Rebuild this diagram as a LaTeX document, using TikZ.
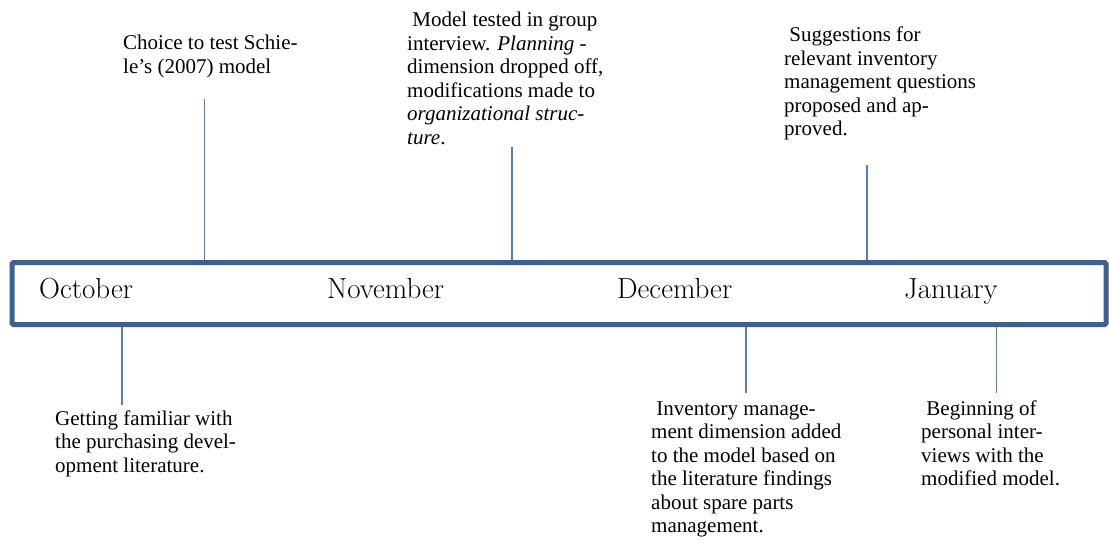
\documentclass[tikz,border=0pt]{standalone}
\usepackage{fontspec}
\setmainfont{Liberation Serif}
\newfontfamily\monthfont{Latin Modern Roman}
\definecolor{barblue}{HTML}{3B6091}
\definecolor{tickblue}{HTML}{4F81BD}
\newcommand{\notelines}[1]{\begin{tabular}[t]{@{}l@{}}#1\end{tabular}}
\tikzset{
  note/.style={anchor=base west, inner sep=0pt, align=left,
    font=\rmfamily\fontsize{21}{23.5}\selectfont},
  month/.style={anchor=base west, inner sep=0pt,
    font=\monthfont\fontsize{29}{32}\selectfont},
  tick/.style={draw=tickblue, line width=1.3pt},
  bar/.style={draw=barblue, line width=5pt, rounded corners=1.5pt,
    minimum width=1094pt, minimum height=62pt, inner sep=0pt}
}
\begin{document}
\begin{tikzpicture}[x=1pt, y=-1pt]
\useasboundingbox (0,0) rectangle (1109,543);

% the time bar
\node[bar] (bar) at (559,293.5) {};

% months
\node[month] (oct) at (39,298) {October};
\node[month] (nov) at (327,298) {November};
\node[month] (dec) at (617,298) {December};
\node[month] (jan) at (904,298) {January};

% events above the bar
\node[note] (e1) at (123,50) {\notelines{Choice to test Schie-\\le’s (2007) model}};
\node[note] (e2) at (407,27) {\notelines{\hspace{0.25em}Model tested in group\\interview. \textit{Planning} -\\dimension dropped off,\\modifications made to\\\textit{organizational struc-}\\\textit{ture}.}};
\node[note] (e3) at (784,42) {\notelines{\hspace{0.25em}Suggestions for\\relevant inventory\\management questions\\proposed and ap-\\proved.}};

% events below the bar
\node[note] (e4) at (55,425) {\notelines{Getting familiar with\\the purchasing devel-\\opment literature.}};
\node[note] (e5) at (651,415) {\notelines{\hspace{0.25em}Inventory manage-\\ment dimension added\\to the model based on\\the literature findings\\about spare parts\\management.}};
\node[note] (e6) at (921,415) {\notelines{\hspace{0.25em}Beginning of\\personal inter-\\views with the\\modified model.}};

% free ends of the tick lines
\coordinate (t1) at (204.5,99);
\coordinate (t2) at (512,147);
\coordinate (t3) at (867,165);
\coordinate (t4) at (122,405);
\coordinate (t5) at (746,393);
\coordinate (t6) at (996.5,393);

\draw[tick] (t1) -- (t1 |- bar.north);
\draw[tick] (t2) -- (t2 |- bar.north);
\draw[tick] (t3) -- (t3 |- bar.north);
\draw[tick] (t4) -- (t4 |- bar.south);
\draw[tick] (t5) -- (t5 |- bar.south);
\draw[tick] (t6) -- (t6 |- bar.south);
\end{tikzpicture}
\end{document}
